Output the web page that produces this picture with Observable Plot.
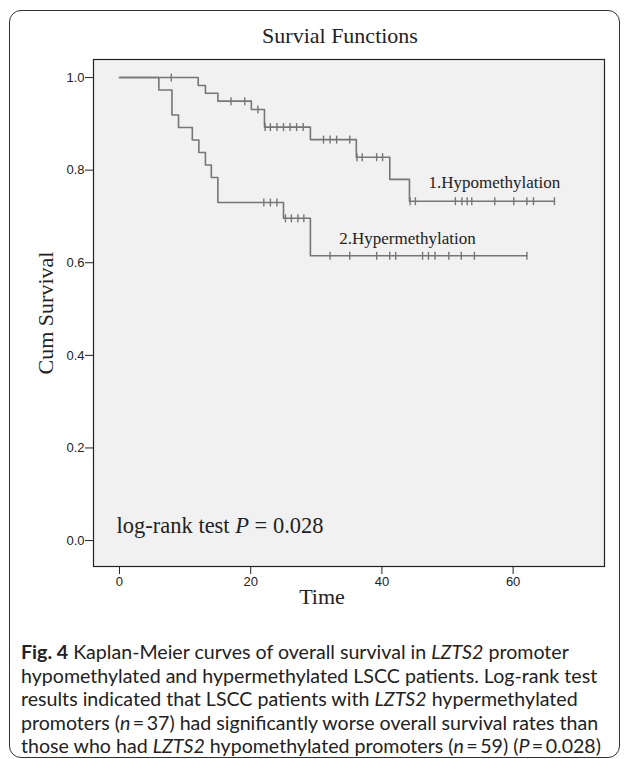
<!DOCTYPE html>
<html><head><meta charset="utf-8">
<script src="https://cdn.jsdelivr.net/npm/d3@7"></script>
<script src="https://cdn.jsdelivr.net/npm/@observablehq/plot@0.6"></script>
<style>
body{margin:0;background:#fff;width:627px;height:759px;position:relative;overflow:hidden}
#box{position:absolute;left:9px;top:10px;width:611px;height:748px;border:1.5px solid #333;border-radius:12px;box-sizing:border-box}
#title{position:absolute;left:0;width:680px;top:22px;text-align:center;font:22px "Liberation Serif",serif;color:#222;line-height:28px}
#chart{position:absolute;left:0;top:0}
#caption{position:absolute;left:21px;top:640px;width:605px;font:19.6px Lato,sans-serif;line-height:23.5px;color:#222;white-space:nowrap}
</style>
</head><body>
<div id="box"></div>
<div id="title">Survial Functions</div>
<div id="chart"></div>
<div id="caption"><b>Fig. 4</b> Kaplan-Meier curves of overall survival in <i>LZTS2</i> promoter<br>hypomethylated and hypermethylated LSCC patients. Log-rank test<br>results indicated that LSCC patients with <i>LZTS2</i> hypermethylated<br>promoters (<i>n</i>&thinsp;=&thinsp;37) had significantly worse overall survival rates than<br>those who had <i>LZTS2</i> hypomethylated promoters (<i>n</i>&thinsp;=&thinsp;59) (<i>P</i>&thinsp;=&thinsp;0.028)</div>
<script>
// Hypomethylation group (step times and survival levels)
const hypoTimes = [0, 12.0, 13.1, 15.0, 20.1, 22.1, 29.1, 36.1, 41.2, 44.2, 66.3];
const hypoSurv  = [1, 0.983, 0.966, 0.949, 0.931, 0.893, 0.866, 0.828, 0.780, 0.733, 0.733];
const hypoCensored = [7.9, 17.0, 19.1, 21.1, 22.2, 23.0, 24.0, 25.0, 26.0, 27.0, 28.0, 31.1, 32.1, 33.1, 35.1, 36.2, 37.0, 39.2, 40.1, 44.3, 45.1, 51.2, 52.2, 53.0, 53.7, 57.2, 60.1, 62.1, 63.1, 66.3];
// Hypermethylation group
const hyperTimes = [0, 6.0, 8.0, 9.0, 11.1, 12.1, 13.1, 14.0, 15.0, 25.0, 29.1, 62.1];
const hyperSurv  = [1, 0.973, 0.919, 0.892, 0.865, 0.838, 0.811, 0.784, 0.730, 0.696, 0.615, 0.615];
const hyperCensored = [22.0, 23.0, 24.0, 25.3, 26.2, 27.2, 28.1, 32.1, 35.1, 39.2, 41.2, 42.1, 46.2, 47.1, 48.1, 50.2, 52.1, 54.1, 62.1];
// Ticks
const xTicks = [0, 20, 40, 60];
const yTicks = [0, 0.2, 0.4, 0.6, 0.8, 1.0];
// Curve labels
const labelTexts = ["1.Hypomethylation", "2.Hypermethylation"];
const labelX = [47.1, 33.5];
const labelY = [0.774, 0.652];
const testText = "log-rank test P = 0.028";
const testX = -0.45, testY = 0.032;

function steps(times, surv) { return times.map((t, i) => ({t, s: surv[i]})); }
function levelAt(times, surv, t) { let s = surv[0]; for (let i = 0; i < times.length; i++) if (times[i] <= t) s = surv[i]; return s; }
function censor(times, surv, cens) { return cens.map(t => ({t, s: levelAt(times, surv, t)})); }

const vbar = {draw(ctx, size) { const h = Math.sqrt(size / Math.PI); ctx.moveTo(0, -h); ctx.lineTo(0, h); }};
const gray = "#767676";
const serif = "'Liberation Serif', 'Times New Roman', serif";

const labels = labelTexts.map((text, i) => ({text, x: labelX[i], y: labelY[i]}));

const plot = Plot.plot({
  width: 627, height: 620,
  marginLeft: 93, marginRight: 23, marginTop: 59, marginBottom: 54,
  style: {fontFamily: "'Liberation Sans', Arial, sans-serif", fontSize: "13px", background: "transparent", color: "#222"},
  x: {domain: [-3.96, 73.93], ticks: xTicks, tickSize: 8, tickPadding: 2, label: null},
  y: {domain: [-0.056, 1.039], ticks: yTicks, tickFormat: ".1f", tickSize: 8, tickPadding: 1, label: null},
  marks: [
    Plot.frame({fill: "#f1f1f1", stroke: "#222", strokeWidth: 1.2}),
    Plot.line(steps(hypoTimes, hypoSurv), {x: "t", y: "s", curve: "step-after", stroke: gray, strokeWidth: 1.6}),
    Plot.line(steps(hyperTimes, hyperSurv), {x: "t", y: "s", curve: "step-after", stroke: gray, strokeWidth: 1.6}),
    Plot.dot(censor(hypoTimes, hypoSurv, hypoCensored), {x: "t", y: "s", symbol: vbar, r: 4, fill: "none", stroke: gray, strokeWidth: 1.4}),
    Plot.dot(censor(hyperTimes, hyperSurv, hyperCensored), {x: "t", y: "s", symbol: vbar, r: 4, fill: "none", stroke: gray, strokeWidth: 1.4}),
    Plot.text(labels, {x: "x", y: "y", text: "text", textAnchor: "start", fontFamily: serif, fontSize: 17, fill: "#222"}),
    Plot.text([testText], {x: testX, y: testY, text: d => d, textAnchor: "start", fontFamily: serif, fontSize: 22.5, fill: "#222"}),
    Plot.text(["Time"], {frameAnchor: "bottom", dy: 37, dx: -27, text: d => d, fontFamily: serif, fontSize: 22, fill: "#222"}),
    Plot.text(["Cum Survival"], {frameAnchor: "left", dx: -48, rotate: -90, textAnchor: "middle", text: d => d, fontFamily: serif, fontSize: 22, fill: "#222"})
  ]
});
document.getElementById("chart").appendChild(plot);

// italicize P in the log-rank annotation
d3.select(plot).selectAll("text").each(function() {
  if (this.textContent === testText) {
    const el = d3.select(this);
    el.text("");
    el.append("tspan").text("log-rank test ");
    el.append("tspan").attr("font-style", "italic").text("P");
    el.append("tspan").text(" = 0.028");
  }
});
</script>
</body></html>
